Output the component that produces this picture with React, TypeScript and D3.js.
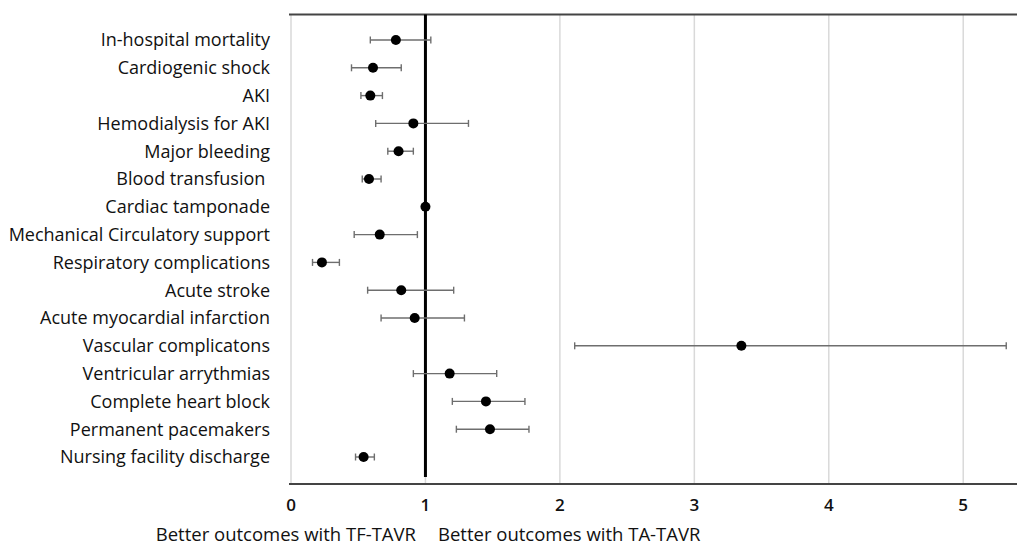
import React, { useEffect, useRef } from "react";
import * as d3 from "d3";

const categories = [
  "In-hospital mortality",
  "Cardiogenic shock",
  "AKI",
  "Hemodialysis for AKI",
  "Major bleeding",
  "Blood transfusion ",
  "Cardiac tamponade",
  "Mechanical Circulatory support",
  "Respiratory complications",
  "Acute stroke",
  "Acute myocardial infarction",
  "Vascular complicatons",
  "Ventricular arrythmias",
  "Complete heart block",
  "Permanent pacemakers",
  "Nursing facility discharge",
];
// odds ratio with lower / upper CI
const oddsRatio = [0.78, 0.61, 0.59, 0.91, 0.8, 0.58, 1.0, 0.66, 0.23, 0.82, 0.92, 3.35, 1.18, 1.45, 1.48, 0.54];
const lowerCI = [0.59, 0.45, 0.52, 0.63, 0.72, 0.53, 1.0, 0.47, 0.16, 0.57, 0.67, 2.11, 0.91, 1.2, 1.23, 0.48];
const upperCI = [1.04, 0.82, 0.68, 1.32, 0.91, 0.67, 1.0, 0.94, 0.36, 1.21, 1.29, 5.32, 1.53, 1.74, 1.77, 0.62];
const xTicks = [0, 1, 2, 3, 4, 5];

const W = 1017;
const H = 549;
const FONT = "'Open Sans', sans-serif";

const ForestPlot = () => {
  const ref = useRef<SVGSVGElement>(null);

  useEffect(() => {
    const left = 291;
    const top = 14.5;
    const bottom = 484;

    const x = d3.scaleLinear().domain([0, 5.4]).range([left, W]);
    const y = d3.scalePoint().domain(categories).range([40, 457]);

    const svg = d3.select(ref.current);
    svg.selectAll("*").remove();

    // gridlines
    svg
      .append("g")
      .selectAll("line")
      .data(xTicks)
      .enter()
      .append("line")
      .attr("x1", (d) => x(d))
      .attr("x2", (d) => x(d))
      .attr("y1", top)
      .attr("y2", bottom)
      .attr("stroke", "#d9d9d9")
      .attr("stroke-width", 1.5);

    // top border + bottom axis line
    svg.append("line").attr("x1", left - 2).attr("x2", W).attr("y1", top).attr("y2", top)
      .attr("stroke", "#444").attr("stroke-width", 2);
    svg.append("line").attr("x1", left - 2).attr("x2", W).attr("y1", bottom).attr("y2", bottom)
      .attr("stroke", "#444").attr("stroke-width", 2);

    // reference line at 1
    svg.append("line").attr("x1", x(1)).attr("x2", x(1)).attr("y1", top).attr("y2", bottom - 7)
      .attr("stroke", "#000").attr("stroke-width", 3);

    const rows = svg
      .append("g")
      .selectAll("g")
      .data(categories)
      .enter()
      .append("g")
      .attr("transform", (d) => `translate(0, ${y(d)})`);

    // whiskers
    rows
      .filter((d, i) => upperCI[i] > lowerCI[i])
      .each(function (d) {
        const i = categories.indexOf(d);
        const g = d3.select(this);
        const stroke = "#6e6e6e";
        g.append("line").attr("x1", x(lowerCI[i])).attr("x2", x(upperCI[i])).attr("y1", 0).attr("y2", 0)
          .attr("stroke", stroke).attr("stroke-width", 1.4);
        [lowerCI[i], upperCI[i]].forEach((v) => {
          g.append("line").attr("x1", x(v)).attr("x2", x(v)).attr("y1", -3.5).attr("y2", 3.5)
            .attr("stroke", stroke).attr("stroke-width", 1.4);
        });
      });

    rows
      .append("circle")
      .attr("cx", (d, i) => x(oddsRatio[i]))
      .attr("cy", 0)
      .attr("r", 5)
      .attr("fill", "#000");

    // category labels
    rows
      .append("text")
      .attr("x", 270)
      .attr("dy", "0.35em")
      .attr("text-anchor", "end")
      .attr("font-family", FONT)
      .attr("font-size", 18)
      .attr("fill", "#111")
      .style("white-space", "pre")
      .text((d) => d);

    // x tick labels
    svg
      .append("g")
      .selectAll("text")
      .data(xTicks)
      .enter()
      .append("text")
      .attr("x", (d) => x(d))
      .attr("y", 505)
      .attr("dy", "0.35em")
      .attr("text-anchor", "middle")
      .attr("font-family", FONT)
      .attr("font-size", 17)
      .attr("font-weight", 600)
      .attr("fill", "#111")
      .text((d) => d);

    svg.append("text").attr("x", 416).attr("y", 535).attr("dy", "0.35em").attr("text-anchor", "end")
      .attr("font-family", FONT).attr("font-size", 18.5).attr("fill", "#111")
      .text("Better outcomes with TF-TAVR");
    svg.append("text").attr("x", 438).attr("y", 535).attr("dy", "0.35em").attr("text-anchor", "start")
      .attr("font-family", FONT).attr("font-size", 18.5).attr("fill", "#111")
      .text("Better outcomes with TA-TAVR");
  }, []);

  return (
    <svg
      ref={ref}
      width={W}
      height={H}
      style={{ position: "absolute", left: 0, top: 0, background: "#fff" }}
    ></svg>
  );
};

export default function App() {
  return <ForestPlot />;
}
